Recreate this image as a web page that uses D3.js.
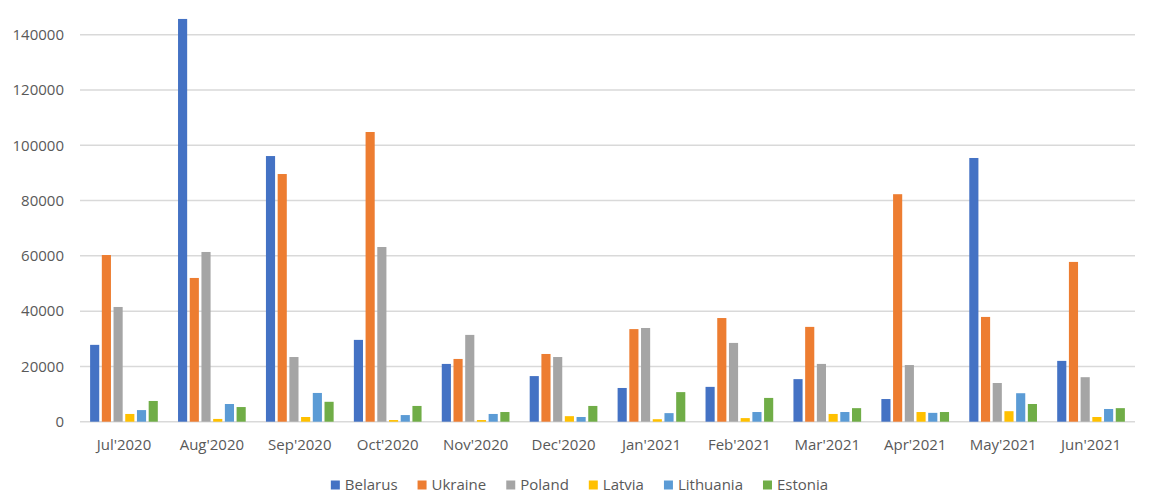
<!DOCTYPE html>
<html><head><meta charset="utf-8">
<script src="https://cdn.jsdelivr.net/npm/d3@7"></script>
<style>html,body{margin:0;padding:0;background:#fff}svg{display:block}text{font-family:"Open Sans",Lato,sans-serif}</style>
</head><body><svg id="c" width="1150" height="503"></svg>
<script>
const months = ["Jul'2020","Aug'2020","Sep'2020","Oct'2020","Nov'2020","Dec'2020","Jan'2021","Feb'2021","Mar'2021","Apr'2021","May'2021","Jun'2021"];
const seriesNames = ["Belarus","Ukraine","Poland","Latvia","Lithuania","Estonia"];
const colors = ["#4472C4","#ED7D31","#A5A5A5","#FFC000","#5B9BD5","#70AD47"];
const belarus   = [27800,145700,96100,29600,20900,16500,12200,12600,15400,8200,95400,22000];
const ukraine   = [60300,52000,89600,104800,22700,24500,33500,37500,34300,82300,37900,57800];
const poland    = [41500,61400,23400,63200,31400,23400,33900,28500,20900,20500,14000,16100];
const latvia    = [2800,1000,1700,600,600,2000,900,1300,2800,3500,3800,1700];
const lithuania = [4200,6400,10400,2400,2800,1700,3100,3500,3500,3200,10300,4600];
const estonia   = [7500,5300,7200,5700,3500,5700,10700,8600,4900,3500,6400,4900];
const yTicks = [0,20000,40000,60000,80000,100000,120000,140000];

const series = [belarus,ukraine,poland,latvia,lithuania,estonia];
const FONT = "15px";
const TXT = "#595959";
const svg = d3.select("#c");
const pLeft = 80, pRight = 1135, pTop = 34.7, pBottom = 421.7;
const x0 = d3.scaleBand().domain(months).range([pLeft,pRight]).paddingInner(0.23).paddingOuter(0.115);
const x1 = d3.scaleBand().domain(seriesNames).range([0,x0.bandwidth()]).paddingInner(0.22);
const y = d3.scaleLinear().domain([0,140000]).range([pBottom,pTop]);

// gridlines
svg.append("g").selectAll("line").data(yTicks).join("line")
  .attr("x1",pLeft).attr("x2",pRight)
  .attr("y1",d=>y(d)).attr("y2",d=>y(d))
  .attr("stroke","#d9d9d9").attr("stroke-width",1.5);

// y labels
const yAxis = d3.axisLeft(y).tickValues(yTicks).tickFormat(d3.format("d")).tickSize(0).tickPadding(0);
const ya = svg.append("g").attr("transform",`translate(64,0)`).call(yAxis);
ya.select(".domain").remove();
ya.selectAll("text").attr("fill",TXT).style("font-size",FONT).style("font-family","Open Sans");

// bars
const g = svg.append("g");
months.forEach((m,i)=>{
  const gg = g.append("g").attr("transform",`translate(${x0(m)},0)`);
  seriesNames.forEach((s,j)=>{
    const v = series[j][i];
    gg.append("rect").attr("x",x1(s)).attr("width",x1.bandwidth())
      .attr("y",y(v)).attr("height",y(0)-y(v)).attr("fill",colors[j]);
  });
});

// x axis labels
const xAxis = d3.axisBottom(x0).tickSize(0).tickPadding(0);
const xa = svg.append("g").attr("transform",`translate(0,445)`).call(xAxis);
xa.select(".domain").remove();
xa.selectAll("text").attr("fill",TXT).attr("y",0).attr("dy","0.36em").style("font-size",FONT).style("font-family","Open Sans");

// legend
const lg = svg.append("g");
let cx = 0;
seriesNames.forEach((s,j)=>{
  const it = lg.append("g");
  it.append("rect").attr("x",0).attr("y",-4.5).attr("width",9).attr("height",9).attr("fill",colors[j]);
  const t = it.append("text").attr("x",14).attr("y",0).attr("dy","0.36em").attr("fill",TXT)
    .style("font-size",FONT).text(s);
  const w = 14 + t.node().getComputedTextLength();
  it.attr("transform",`translate(${cx},485)`);
  cx += w + 20;
});
const total = cx - 20;
lg.attr("transform",`translate(${579.5 - total/2},0)`);
</script></body></html>
